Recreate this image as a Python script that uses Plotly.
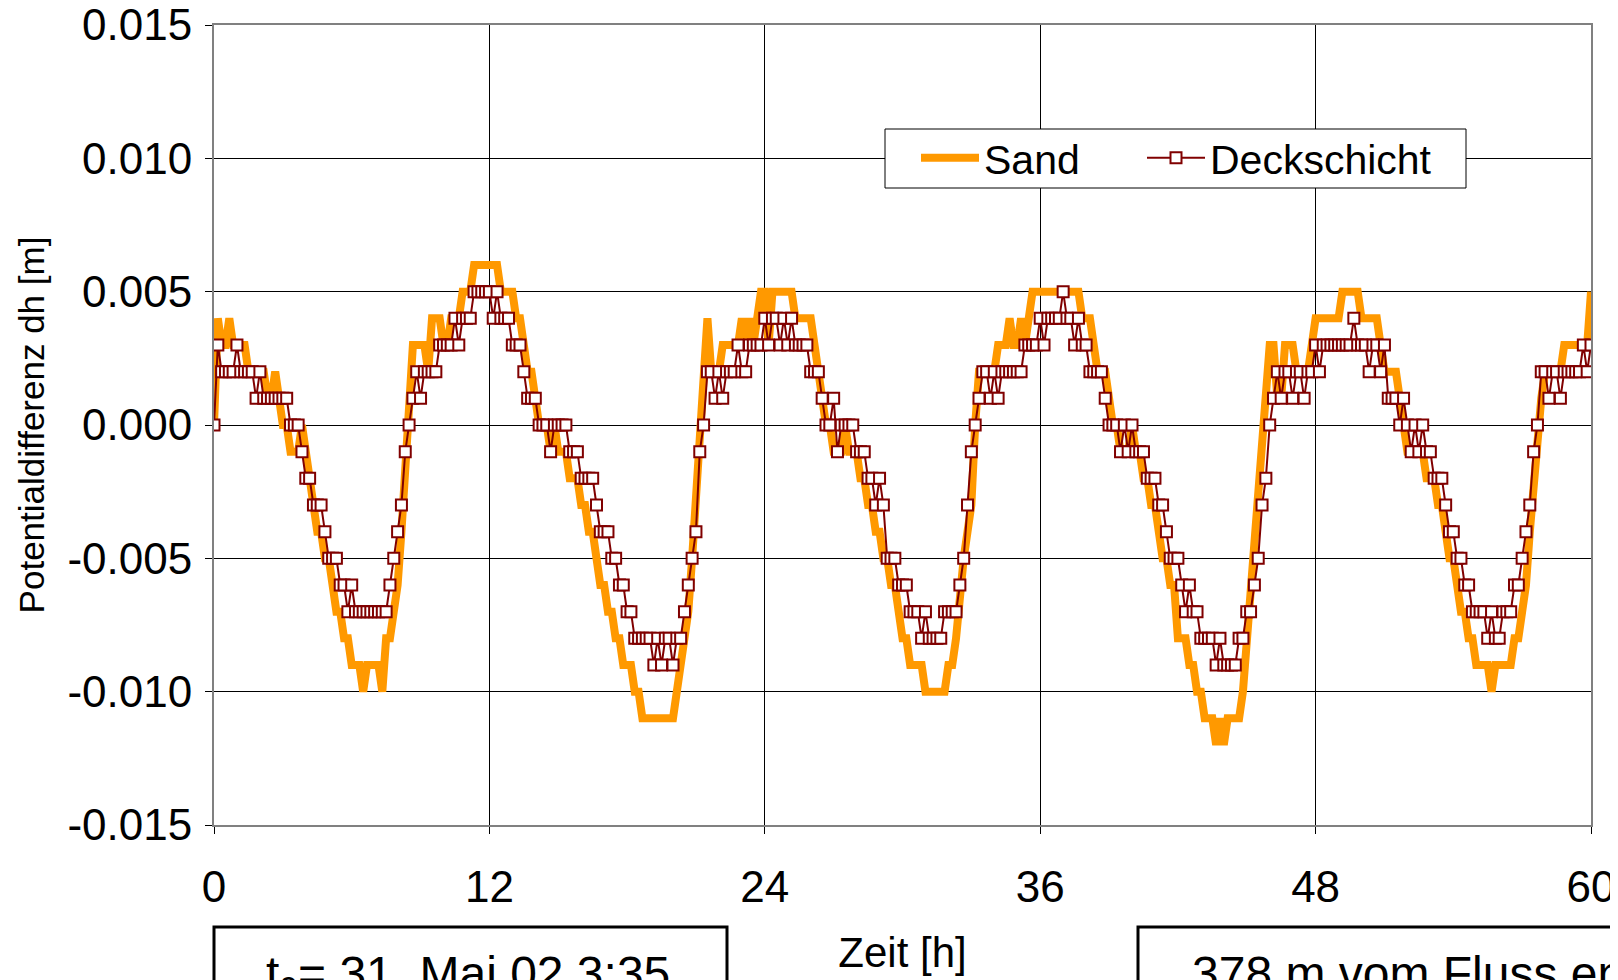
import plotly.graph_objects as go

# ---------------- data (10-minute samples, hours since t0) ----------------
step_hours = 1 / 6

sand = [
    0.000, 0.004, 0.003, 0.003, 0.004, 0.003,
    0.003, 0.003, 0.003, 0.002, 0.002, 0.002,
    0.002, 0.002, 0.001, 0.001, 0.002, 0.001,
    0.000, 0.000, -0.001, -0.001, -0.001, 0.000,
    -0.001, -0.002, -0.003, -0.004, -0.004, -0.005,
    -0.005, -0.006, -0.007, -0.007, -0.008, -0.008,
    -0.009, -0.009, -0.009, -0.010, -0.009, -0.009,
    -0.009, -0.009, -0.010, -0.008, -0.008, -0.007,
    -0.006, -0.004, -0.002, 0.001, 0.003, 0.003,
    0.003, 0.003, 0.002, 0.004, 0.004, 0.004,
    0.003, 0.003, 0.004, 0.004, 0.004, 0.005,
    0.005, 0.005, 0.006, 0.006, 0.006, 0.006,
    0.006, 0.006, 0.006, 0.005, 0.005, 0.005,
    0.005, 0.004, 0.004, 0.003, 0.002, 0.002,
    0.001, 0.000, 0.000, 0.000, -0.001, 0.000,
    -0.001, -0.001, -0.001, -0.002, -0.002, -0.002,
    -0.003, -0.003, -0.004, -0.004, -0.005, -0.006,
    -0.006, -0.007, -0.007, -0.008, -0.008, -0.009,
    -0.009, -0.009, -0.010, -0.010, -0.011, -0.011,
    -0.011, -0.011, -0.011, -0.011, -0.011, -0.011,
    -0.011, -0.010, -0.009, -0.008, -0.007, -0.005,
    -0.003, 0.000, 0.002, 0.004, 0.002, 0.002,
    0.002, 0.003, 0.003, 0.003, 0.003, 0.003,
    0.004, 0.003, 0.004, 0.003, 0.004, 0.005,
    0.005, 0.003, 0.005, 0.005, 0.005, 0.005,
    0.005, 0.005, 0.004, 0.004, 0.004, 0.004,
    0.004, 0.003, 0.002, 0.001, 0.000, 0.000,
    -0.001, -0.001, -0.001, 0.000, -0.001, -0.001,
    -0.001, -0.002, -0.002, -0.003, -0.003, -0.004,
    -0.004, -0.005, -0.005, -0.006, -0.006, -0.007,
    -0.008, -0.008, -0.009, -0.009, -0.009, -0.009,
    -0.010, -0.010, -0.010, -0.010, -0.010, -0.010,
    -0.009, -0.009, -0.008, -0.006, -0.005, -0.004,
    -0.003, 0.000, 0.002, 0.002, 0.002, 0.002,
    0.002, 0.003, 0.003, 0.003, 0.004, 0.003,
    0.003, 0.004, 0.003, 0.004, 0.005, 0.005,
    0.005, 0.005, 0.005, 0.005, 0.005, 0.005,
    0.005, 0.005, 0.005, 0.005, 0.005, 0.004,
    0.004, 0.004, 0.003, 0.002, 0.002, 0.002,
    0.001, 0.000, 0.000, -0.001, -0.001, -0.001,
    0.000, -0.001, -0.001, -0.002, -0.002, -0.003,
    -0.003, -0.004, -0.005, -0.005, -0.006, -0.006,
    -0.008, -0.008, -0.008, -0.009, -0.009, -0.010,
    -0.010, -0.011, -0.011, -0.011, -0.012, -0.011,
    -0.012, -0.011, -0.011, -0.011, -0.011, -0.010,
    -0.008, -0.006, -0.004, -0.002, 0.000, 0.002,
    0.003, 0.003, 0.001, 0.001, 0.003, 0.003,
    0.003, 0.002, 0.002, 0.002, 0.002, 0.003,
    0.004, 0.004, 0.004, 0.004, 0.004, 0.004,
    0.004, 0.005, 0.005, 0.005, 0.005, 0.005,
    0.004, 0.004, 0.004, 0.004, 0.004, 0.003,
    0.002, 0.002, 0.002, 0.002, 0.001, 0.000,
    -0.001, -0.001, -0.001, -0.001, -0.001, -0.002,
    -0.002, -0.002, -0.003, -0.003, -0.004, -0.005,
    -0.005, -0.006, -0.007, -0.007, -0.008, -0.008,
    -0.009, -0.009, -0.009, -0.009, -0.010, -0.009,
    -0.009, -0.009, -0.009, -0.009, -0.008, -0.008,
    -0.007, -0.006, -0.004, -0.002, 0.000, 0.001,
    0.002, 0.002, 0.002, 0.002, 0.002, 0.003,
    0.003, 0.003, 0.003, 0.003, 0.003, 0.003,
    0.005,
]

deckschicht = [
    0.000, 0.003, 0.002, 0.002, 0.002, 0.002,
    0.003, 0.002, 0.002, 0.002, 0.002, 0.001,
    0.002, 0.001, 0.001, 0.001, 0.001, 0.001,
    0.001, 0.001, 0.000, 0.000, 0.000, -0.001,
    -0.002, -0.002, -0.003, -0.003, -0.003, -0.004,
    -0.005, -0.005, -0.005, -0.006, -0.006, -0.007,
    -0.006, -0.007, -0.007, -0.007, -0.007, -0.007,
    -0.007, -0.007, -0.007, -0.007, -0.006, -0.005,
    -0.004, -0.003, -0.001, 0.000, 0.001, 0.002,
    0.001, 0.002, 0.002, 0.002, 0.002, 0.003,
    0.003, 0.003, 0.003, 0.004, 0.003, 0.004,
    0.004, 0.004, 0.005, 0.005, 0.005, 0.005,
    0.005, 0.004, 0.005, 0.004, 0.004, 0.004,
    0.003, 0.003, 0.003, 0.002, 0.001, 0.001,
    0.001, 0.000, 0.000, 0.000, -0.001, 0.000,
    0.000, 0.000, 0.000, -0.001, -0.001, -0.001,
    -0.002, -0.002, -0.002, -0.002, -0.003, -0.004,
    -0.004, -0.004, -0.005, -0.005, -0.006, -0.006,
    -0.007, -0.007, -0.008, -0.008, -0.008, -0.008,
    -0.008, -0.009, -0.008, -0.009, -0.008, -0.008,
    -0.009, -0.008, -0.008, -0.007, -0.006, -0.005,
    -0.004, -0.001, 0.000, 0.002, 0.002, 0.001,
    0.002, 0.001, 0.002, 0.002, 0.002, 0.003,
    0.002, 0.002, 0.003, 0.003, 0.003, 0.003,
    0.004, 0.003, 0.004, 0.004, 0.003, 0.004,
    0.003, 0.004, 0.003, 0.003, 0.003, 0.003,
    0.002, 0.002, 0.002, 0.001, 0.000, 0.000,
    0.001, -0.001, 0.000, 0.000, 0.000, 0.000,
    -0.001, -0.001, -0.001, -0.002, -0.002, -0.003,
    -0.002, -0.003, -0.005, -0.005, -0.005, -0.006,
    -0.006, -0.006, -0.007, -0.007, -0.007, -0.008,
    -0.007, -0.008, -0.008, -0.008, -0.008, -0.007,
    -0.007, -0.007, -0.007, -0.006, -0.005, -0.003,
    -0.001, 0.000, 0.001, 0.002, 0.002, 0.001,
    0.002, 0.001, 0.002, 0.002, 0.002, 0.002,
    0.002, 0.002, 0.003, 0.003, 0.003, 0.003,
    0.004, 0.003, 0.004, 0.004, 0.004, 0.004,
    0.005, 0.004, 0.004, 0.003, 0.004, 0.003,
    0.003, 0.002, 0.002, 0.002, 0.002, 0.001,
    0.000, 0.000, 0.000, -0.001, 0.000, -0.001,
    0.000, -0.001, -0.001, -0.001, -0.002, -0.002,
    -0.002, -0.003, -0.003, -0.004, -0.005, -0.005,
    -0.005, -0.006, -0.007, -0.006, -0.007, -0.007,
    -0.008, -0.008, -0.008, -0.008, -0.009, -0.008,
    -0.009, -0.009, -0.009, -0.009, -0.008, -0.008,
    -0.007, -0.007, -0.006, -0.005, -0.003, -0.002,
    0.000, 0.001, 0.002, 0.001, 0.002, 0.002,
    0.001, 0.002, 0.002, 0.001, 0.002, 0.002,
    0.003, 0.002, 0.003, 0.003, 0.003, 0.003,
    0.003, 0.003, 0.003, 0.003, 0.004, 0.003,
    0.003, 0.003, 0.002, 0.003, 0.003, 0.002,
    0.003, 0.001, 0.001, 0.001, 0.000, 0.001,
    0.000, -0.001, 0.000, -0.001, 0.000, -0.001,
    -0.001, -0.002, -0.002, -0.002, -0.003, -0.004,
    -0.004, -0.005, -0.005, -0.006, -0.006, -0.007,
    -0.007, -0.007, -0.007, -0.008, -0.007, -0.008,
    -0.008, -0.007, -0.007, -0.007, -0.006, -0.006,
    -0.005, -0.004, -0.003, -0.001, 0.000, 0.002,
    0.002, 0.001, 0.002, 0.002, 0.001, 0.002,
    0.002, 0.002, 0.002, 0.002, 0.003, 0.002,
    0.003,
]

time_sand = [k * step_hours for k in range(len(sand))]
time_deck = [k * step_hours for k in range(len(deckschicht))]

x_tickvals = [0, 12, 24, 36, 48, 60]
x_ticktext = ["0", "12", "24", "36", "48", "60"]
y_tickvals = [-0.015, -0.010, -0.005, 0.0, 0.005, 0.010, 0.015]
y_ticktext = ["-0.015", "-0.010", "-0.005", "0.000", "0.005", "0.010", "0.015"]

series_names = ["Sand", "Deckschicht"]
x_title = "Zeit [h]"
y_title = "Potentialdifferenz dh [m]"
note_start = "t<sub>0</sub>= 31. Mai 02 3:35"
note_place = "378 m vom Fluss entfernt"

# ---------------- figure ----------------
FONT = "Arial, 'Liberation Sans', sans-serif"
PAGE_W, PAGE_H = 1618, 980
BODY = 8  # default page margin around the plot div
# plot area in page pixels
PL, PR, PT, PB = 214, 1591, 25, 825
W, H = PAGE_W - BODY, PAGE_H - BODY
L, R, T, B = PL - BODY, PAGE_W - PR, PT - BODY, PAGE_H - PB


def px_x(px):
    return (px - PL) / (PR - PL)


def px_y(py):
    return (PB - py) / (PB - PT)


fig = go.Figure()
fig.add_trace(go.Scatter(
    x=time_sand, y=sand, name=series_names[0], mode="lines",
    line=dict(color="#FF9900", width=8), legend="legend",
))
fig.add_trace(go.Scatter(
    x=time_deck, y=deckschicht, name=series_names[1], mode="lines+markers",
    line=dict(color="#800000", width=2),
    marker=dict(symbol="square", size=11, color="white",
                line=dict(color="#800000", width=2)),
    legend="legend2",
))

legend_common = dict(
    orientation="h", xanchor="left", yanchor="middle",
    bgcolor="rgba(0,0,0,0)", borderwidth=0, itemwidth=58,
    font=dict(family=FONT, size=41, color="black"),
)

fig.update_layout(
    width=W, height=H,
    margin=dict(l=L, r=R, t=T, b=B, autoexpand=False),
    paper_bgcolor="white", plot_bgcolor="white",
    font=dict(family=FONT, size=44, color="black"),
    showlegend=True,
    legend=dict(x=px_x(916), y=px_y(158), **legend_common),
    legend2=dict(x=px_x(1142), y=px_y(158), **legend_common),
    xaxis=dict(
        range=[0, 60], tickmode="array", tickvals=x_tickvals, ticktext=x_ticktext,
        showgrid=True, gridcolor="black", gridwidth=1, zeroline=False,
        showline=True, linecolor="#808080", linewidth=2, mirror=True,
        ticks="outside", ticklen=7, tickcolor="black", ticklabelstandoff=15,
        ticklabeloverflow="allow",
        tickfont=dict(family=FONT, size=44, color="black"),
        title=dict(text=x_title, font=dict(family=FONT, size=42, color="black"), standoff=28),
    ),
    yaxis=dict(
        range=[-0.015, 0.015], tickmode="array", tickvals=y_tickvals, ticktext=y_ticktext,
        showgrid=True, gridcolor="black", gridwidth=1, zeroline=False,
        showline=True, linecolor="#808080", linewidth=2, mirror=True,
        ticks="outside", ticklen=7, tickcolor="black", ticklabelstandoff=4,
        ticklabeloverflow="allow",
        tickfont=dict(family=FONT, size=44, color="black"),
        title=dict(text=y_title, font=dict(family=FONT, size=35, color="black"), standoff=12),
    ),
)

# legend frame
fig.add_shape(type="rect", xref="paper", yref="paper",
              x0=px_x(885), x1=px_x(1466), y0=px_y(129), y1=px_y(188),
              line=dict(color="black", width=1), fillcolor="white", layer="above")

# bottom info boxes (running past the page edge like the original)
fig.add_shape(type="rect", xref="paper", yref="paper",
              x0=px_x(214), x1=px_x(727), y0=px_y(927), y1=px_y(1010),
              line=dict(color="black", width=3), fillcolor="white", layer="above")
fig.add_shape(type="rect", xref="paper", yref="paper",
              x0=px_x(1138), x1=px_x(1700), y0=px_y(927), y1=px_y(1010),
              line=dict(color="black", width=3), fillcolor="white", layer="above")
fig.add_annotation(text=note_start, xref="paper", yref="paper",
                   x=px_x(264), y=px_y(945), xanchor="left", yanchor="top",
                   showarrow=False, font=dict(family=FONT, size=48, color="black"))
fig.add_annotation(text=note_place, xref="paper", yref="paper",
                   x=px_x(1190), y=px_y(945), xanchor="left", yanchor="top",
                   showarrow=False, font=dict(family=FONT, size=48, color="black"))

fig.write_html("out.html")
